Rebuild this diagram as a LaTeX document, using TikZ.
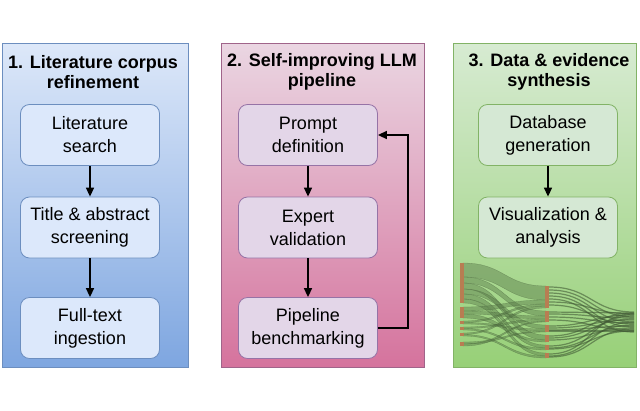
\documentclass[tikz,border=0pt]{standalone}
\usepackage{fontspec}
\setmainfont{Liberation Sans}
\usetikzlibrary{arrows.meta}
\definecolor{bluebd}{HTML}{6C8EBF}
\definecolor{bluetop}{HTML}{DDE8F9}
\definecolor{bluebot}{HTML}{7EA6E0}
\definecolor{bluebox}{HTML}{DCE8FB}
\definecolor{pinkbd}{HTML}{A0648A}
\definecolor{pinktop}{HTML}{EAD6E2}
\definecolor{pinkbot}{HTML}{D5739D}
\definecolor{lavbox}{HTML}{E3D6E8}
\definecolor{lavbd}{HTML}{9673A6}
\definecolor{greenbd}{HTML}{82B366}
\definecolor{greentop}{HTML}{D7EBD2}
\definecolor{greenbot}{HTML}{97D077}
\definecolor{greenbox}{HTML}{D5E8D4}
\definecolor{flowc}{HTML}{587A48}
\definecolor{barc}{HTML}{B87D52}
\tikzset{
  panel/.style={draw, line width=0.9pt, inner sep=0pt},
  ptitle/.style={font=\fontsize{18}{20}\selectfont\bfseries, align=center, inner sep=0pt},
  stepbox/.style={draw, rounded corners=9pt, line width=0.8pt, minimum width=139pt, minimum height=61pt, align=center, font=\fontsize{18}{23}\selectfont, inner sep=0pt},
  arr/.style={line width=1.5pt, -{Triangle[length=9pt,width=8pt]}},
  band/.style={fill=flowc, fill opacity=0.45, draw=flowc!60!black, draw opacity=0.4, line width=0.3pt},
  thin/.style={draw=flowc!75!black, draw opacity=0.6, line width=1.2pt},
  bar/.style={fill=barc, draw=none}
}
\newcommand\flowband[6]{%
  \path[band] (#1,#2) .. controls ({(#1+#4)/2},#2) and ({(#1+#4)/2},#5) .. (#4,#5) -- (#4,#6) .. controls ({(#1+#4)/2},#6) and ({(#1+#4)/2},#3) .. (#1,#3) -- cycle;}
\newcommand\flowline[4]{%
  \path[thin] (#1,#2) .. controls ({(#1+#3)/2},#2) and ({(#1+#3)/2},#4) .. (#3,#4);}
\begin{document}
\begin{tikzpicture}[x=1pt,y=-1pt]
\useasboundingbox (0,0) rectangle (640,410);
% panels
\path[panel, draw=bluebd, top color=bluetop, bottom color=bluebot] (2,43) rectangle (188,367);
\path[panel, draw=pinkbd, top color=pinktop, bottom color=pinkbot] (221,43) rectangle (424,367);
\path[panel, draw=greenbd, top color=greentop, bottom color=greenbot] (453,43) rectangle (636,367);
% titles
\node[ptitle] (t1) at (93,72) {1. Literature corpus\\refinement};
\node[ptitle] (t2) at (322,72) {2. Self-improving LLM\\pipeline};
\node[ptitle] (t3) at (549,72) {3. Data \& evidence\\synthesis};
% panel 1
\node[stepbox, draw=bluebd, fill=bluebox] (a1) at (90,135) {Literature\\search};
\node[stepbox, draw=bluebd, fill=bluebox] (a2) at (90,227.5) {Title \& abstract\\screening};
\node[stepbox, draw=bluebd, fill=bluebox] (a3) at (90,328) {Full-text\\ingestion};
\draw[arr] (a1) -- (a2);
\draw[arr] (a2) -- (a3);
% panel 2
\node[stepbox, draw=lavbd, fill=lavbox] (b1) at (308,135) {Prompt\\definition};
\node[stepbox, draw=lavbd, fill=lavbox] (b2) at (308,227.5) {Expert\\validation};
\node[stepbox, draw=lavbd, fill=lavbox] (b3) at (308,328) {Pipeline\\benchmarking};
\coordinate (fb1) at (408,328);
\coordinate (fb2) at (408,135);
\draw[arr] (b1) -- (b2);
\draw[arr] (b2) -- (b3);
\draw[arr] (b3.east) -- (fb1) -- (fb2) -- (b1.east);
% panel 3
\node[stepbox, draw=greenbd, fill=greenbox] (c1) at (548,135) {Database\\generation};
\node[stepbox, draw=greenbd, fill=greenbox] (c2) at (548,227.5) {Visualization \&\\analysis};
\draw[arr] (c1) -- (c2);
% sankey: left -> middle
\flowband{463}{263}{277}{546}{286}{300}
\flowband{463}{277}{283}{546}{311}{316}
\flowband{463}{283}{289}{546}{335}{340}
\flowband{463}{289}{294}{546}{325}{329}
\flowband{463}{294}{299}{546}{345}{348}
\flowband{463}{299}{303}{546}{353}{356}
\flowband{463}{307}{311}{546}{300}{304}
\flowband{463}{311}{314}{546}{316}{319}
\flowband{463}{314}{318}{546}{340}{342}
\flowband{463}{321}{322.5}{546}{304}{306}
\flowband{463}{322.5}{324}{546}{329}{331}
\flowband{463}{327}{328.5}{546}{319}{321}
\flowband{463}{328.5}{330}{546}{348}{350}
\flowband{463}{333}{334.5}{546}{306}{308}
\flowband{463}{334.5}{336}{546}{356}{358}
\flowband{463}{342}{344}{546}{331}{332}
\flowband{463}{344}{346}{546}{321}{322}
% middle -> right
\foreach \ya/\yb in {287/312,290/317,293/322,296/327,299/332,302/314,305/324,
  312/313,314/318,317/323,320/330,326/315,328/320,330/326,331/331,
  336/313,338/319,340/328,346/316,348/325,349/331,354/314,356/322,357/329}{
  \flowline{549}{\ya}{634}{\yb}
}
% bars
\fill[bar] (460,263) rectangle (464,303);
\fill[bar] (460,307) rectangle (464,318);
\fill[bar] (460,321) rectangle (464,324);
\fill[bar] (460,327) rectangle (464,330);
\fill[bar] (460,333) rectangle (464,336);
\fill[bar] (460,342) rectangle (464,346);
\fill[bar] (545,286) rectangle (549,308);
\fill[bar] (545,311) rectangle (549,322);
\fill[bar] (545,325) rectangle (549,332);
\fill[bar] (545,335) rectangle (549,342);
\fill[bar] (545,345) rectangle (549,350);
\fill[bar] (545,353) rectangle (549,358);
\end{tikzpicture}
\end{document}
